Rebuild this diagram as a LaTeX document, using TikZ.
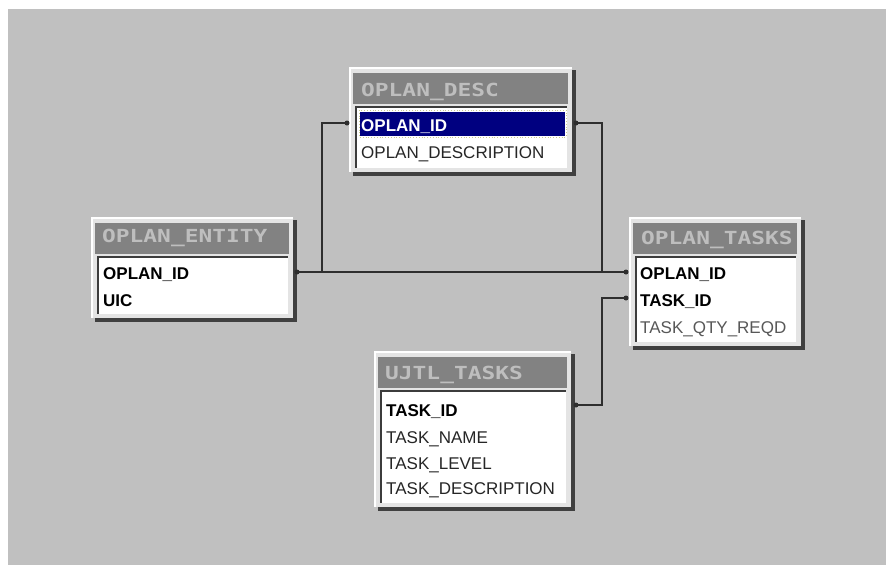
\documentclass[tikz,border=0pt]{standalone}
\usepackage{fontspec}
\setmainfont{Liberation Sans}
\newfontfamily\hdrfont{DejaVu Sans Mono}
\usepackage{graphicx}
\definecolor{bgc}{HTML}{C0C0C0}
\definecolor{framec}{HTML}{E4E4E4}
\definecolor{shadowc}{HTML}{404040}
\definecolor{titlec}{HTML}{828282}
\definecolor{titletxt}{HTML}{BEBEBE}
\definecolor{sunkc}{HTML}{3C3C3C}
\definecolor{connc}{HTML}{2E2E2E}
\definecolor{navyc}{HTML}{000080}
\definecolor{focusc}{HTML}{C8C890}
\definecolor{rowc}{HTML}{262626}
\definecolor{lightrowc}{HTML}{585858}
\newcommand\dbtable[4]{% x1 y1 x2 y2
  \fill[shadowc] (#1+4,#2+3) rectangle (#3+4,#4+4);
  \fill[framec] (#1,#2) rectangle (#3,#4);
  \draw[white, line width=1.5pt] (#1+0.75,#4) -- (#1+0.75,#2+0.75) -- (#3,#2+0.75);
  \fill[titlec] (#1+4,#2+6) rectangle (#3-4,#2+37);
  \fill[sunkc] (#1+6,#2+39) rectangle (#3-5,#4-4);
  \fill[white] (#1+8,#2+41) rectangle (#3-5,#4-4);
}
\tikzset{
  rowtxt/.style={anchor=base west, inner sep=0pt, text=rowc, font=\fontsize{17}{20}\selectfont},
  keytxt/.style={rowtxt, text=black, font=\fontsize{17}{20}\selectfont\bfseries},
  hdrtxt/.style={anchor=base west, inner sep=0pt, text=titletxt, font=\hdrfont\fontsize{18}{20}\selectfont\bfseries},
  conn/.style={draw=connc, line width=1.8pt},
  dot/.style={fill=connc}
}
\newcommand\hdr[1]{\scalebox{1.27}[1]{#1}}
\begin{document}
\begin{tikzpicture}[x=1pt,y=-1pt]
\useasboundingbox (0,0) rectangle (886,565);
\fill[white] (0,0) rectangle (886,565);
\fill[bgc] (8,9) rectangle (886,565);

% connectors
\coordinate (entR) at (297,272);
\coordinate (tasksL1) at (626,272);
\coordinate (jA) at (322,272);
\coordinate (jB) at (322,123);
\coordinate (descL) at (347,123);
\coordinate (descR) at (576,123);
\coordinate (jC) at (602,123);
\coordinate (jD) at (602,272);
\coordinate (ujtlR) at (576,405);
\coordinate (jE) at (602,405);
\coordinate (jF) at (602,298);
\coordinate (tasksL2) at (626,298);

\draw[conn] (entR) -- (tasksL1);
\draw[conn] (jA) -- (jB) -- (descL);
\draw[conn] (descR) -- (jC) -- (jD);
\draw[conn] (ujtlR) -- (jE) -- (jF) -- (tasksL2);

% OPLAN_DESC
\dbtable{349}{67}{572}{172}
\node[hdrtxt] (hdesc) at (361,96) {\hdr{OPLAN\_DESC}};
\fill[navyc] (360,112) rectangle (565,136);
\draw[focusc, dotted, line width=0.8pt] (359,110) rectangle (566,137);
\node[keytxt, text=white] (descid) at (361,131) {OPLAN\_ID};
\node[rowtxt] (descdesc) at (361,158) {OPLAN\_DESCRIPTION};

% OPLAN_ENTITY
\dbtable{91}{217}{293}{318}
\node[hdrtxt] (hent) at (102,242) {\hdr{OPLAN\_ENTITY}};
\node[keytxt] (entid) at (103,279) {OPLAN\_ID};
\node[keytxt] (entuic) at (103,306) {UIC};

% OPLAN_TASKS
\dbtable{629}{217}{801}{346}
\node[hdrtxt] (htasks) at (641,244) {\hdr{OPLAN\_TASKS}};
\node[keytxt] (tasksid) at (640,279) {OPLAN\_ID};
\node[keytxt] (taskstid) at (640,306) {TASK\_ID};
\node[rowtxt, text=lightrowc] (tasksqty) at (640,333) {TASK\_QTY\_REQD};

% UJTL_TASKS
\dbtable{374}{351}{571}{507}
\node[hdrtxt] (hujtl) at (385,379) {\hdr{UJTL\_TASKS}};
\node[keytxt] (ujtlid) at (386,416) {TASK\_ID};
\node[rowtxt] (ujtlname) at (386,443) {TASK\_NAME};
\node[rowtxt] (ujtllevel) at (386,469) {TASK\_LEVEL};
\node[rowtxt] (ujtldesc) at (386,494) {TASK\_DESCRIPTION};

% connector end dots
\fill[dot] (entR) circle (2.5);
\fill[dot] (tasksL1) circle (2.5);
\fill[dot] (descL) circle (2.5);
\fill[dot] (descR) circle (2.5);
\fill[dot] (tasksL2) circle (2.5);
\fill[dot] (ujtlR) circle (2.5);
\end{tikzpicture}
\end{document}
